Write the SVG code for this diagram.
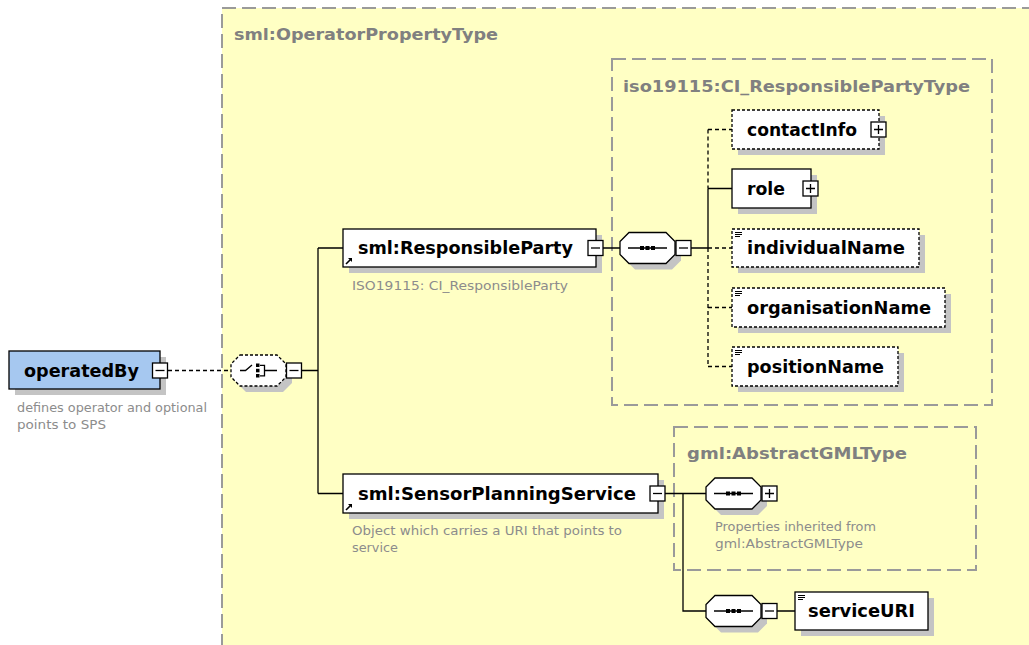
<svg xmlns="http://www.w3.org/2000/svg" xmlns:xlink="http://www.w3.org/1999/xlink" width="1029" height="645" viewBox="0 0 1029 645">
  <style>
    .type{fill:#ffffc4;stroke:#9a9a9a;stroke-width:2;stroke-dasharray:14 6}
    .ttl{font-family:"DejaVu Sans","Liberation Sans",sans-serif;font-weight:bold;font-size:16px;fill:#808080}
    .el{fill:#fff;stroke:#000;stroke-width:1.3}
    .opt{stroke-dasharray:3 2}
    .sh{fill:#c4c4c4}
    .lbl{font-family:"DejaVu Sans","Liberation Sans",sans-serif;font-weight:bold;font-size:18px;fill:#000}
    .doc{font-family:"DejaVu Sans","Liberation Sans",sans-serif;font-size:12px;fill:#8c8c8c}
    .ln{stroke:#000;stroke-width:1.3;fill:none}
    .dl{stroke-dasharray:4 3}
    .cmp{fill:#fff;stroke:#000;stroke-width:1.3}
  </style>
  <defs>
    <path id="oct" d="M9,0H46L55,9V22L46,31H9L0,22V9Z"/>
    <g id="minus">
      <rect width="15" height="15" fill="#fff" stroke="#000" stroke-width="1.3"/>
      <path d="M3,7.5H12" stroke="#000" stroke-width="1.3"/>
    </g>
    <g id="plus">
      <rect width="15" height="15" fill="#fff" stroke="#000" stroke-width="1.3"/>
      <path d="M3,7.5H12M7.5,3V12" stroke="#000" stroke-width="1.3"/>
    </g>
    <g id="seq">
      <path d="M8,15.5H47" stroke="#000" stroke-width="1.3"/>
      <rect x="20" y="13.5" width="4" height="4" fill="#000"/>
      <rect x="25.5" y="13.5" width="4" height="4" fill="#000"/>
      <rect x="31" y="13.5" width="4" height="4" fill="#000"/>
    </g>
    <!-- simple-content marker: three short lines -->
    <g id="txt" fill="#000">
      <rect x="0" y="0" width="7" height="1"/>
      <rect x="0" y="2" width="7" height="1"/>
      <rect x="0" y="4" width="5" height="1"/>
    </g>
    <g id="ref">
      <path d="M1,7L6,2" stroke="#000" stroke-width="1.6"/>
      <path d="M3,1H7V5Z" fill="#000"/>
    </g>
  </defs>

  <!-- complex type frames -->
  <g id="type-operator">
    <rect class="type" x="222" y="8" width="830" height="660"/>
    <text class="ttl" x="234" y="40" textLength="264" lengthAdjust="spacingAndGlyphs">sml:OperatorPropertyType</text>
  </g>
  <g id="type-ci">
    <rect class="type" x="612" y="59" width="380" height="346"/>
    <text class="ttl" x="623" y="92" textLength="347" lengthAdjust="spacingAndGlyphs">iso19115:CI_ResponsiblePartyType</text>
  </g>
  <g id="type-gml">
    <rect class="type" x="674" y="427" width="302" height="143"/>
    <text class="ttl" x="687" y="459" textLength="220" lengthAdjust="spacingAndGlyphs">gml:AbstractGMLType</text>
  </g>

  <!-- connectors -->
  <g id="connectors">
    <path class="ln dl" d="M168,370.5H231"/>
    <path class="ln" d="M301.5,370.5H318M318,248V493.5M318,248H343M318,493.5H343"/>
    <path class="ln" d="M603,248H620M691,248H708M708,188.5V248M708,188.5H732"/>
    <path class="ln dl" d="M708,129.5V188.5M708,129.5H732M708,248V366.5M708,248H732M708,307.5H732M708,366.5H732"/>
    <path class="ln" d="M665,493.5H706M683,493.5V611H706M777,611H795"/>
  </g>

  <!-- operatedBy -->
  <g id="operatedBy">
    <rect class="sh" x="15" y="357" width="151" height="38"/>
    <rect x="9" y="351" width="151" height="38" fill="#a6c8f0" stroke="#000" stroke-width="1.3"/>
    <text class="lbl" x="24" y="377" textLength="115" lengthAdjust="spacingAndGlyphs">operatedBy</text>
    <use xlink:href="#minus" x="152.5" y="363"/>
    <text class="doc" x="17" y="412" textLength="190" lengthAdjust="spacingAndGlyphs">defines operator and optional</text>
    <text class="doc" x="17" y="429" textLength="89" lengthAdjust="spacingAndGlyphs">points to SPS</text>
  </g>

  <!-- choice compositor -->
  <g id="choice">
    <use xlink:href="#oct" x="237" y="361" class="sh"/>
    <use xlink:href="#oct" x="231" y="355" class="cmp opt"/>
    <path d="M240,370.5H245.5L252,365" stroke="#000" stroke-width="1.3" fill="none"/>
    <rect x="256" y="363.5" width="3.5" height="3.5" fill="#000"/>
    <rect x="256" y="368.8" width="3.5" height="3.5" fill="#000"/>
    <rect x="256" y="374" width="3.5" height="3.5" fill="#000"/>
    <path d="M260,365.3H264.5V375.8H260M264.5,370.5H277" stroke="#000" stroke-width="1.3" fill="none"/>
    <use xlink:href="#minus" x="286.5" y="363"/>
  </g>

  <!-- sml:ResponsibleParty -->
  <g id="responsibleParty">
    <rect class="sh" x="349" y="235" width="253" height="38"/>
    <rect class="el" x="343" y="229" width="253" height="38"/>
    <text class="lbl" x="358" y="254" textLength="215" lengthAdjust="spacingAndGlyphs">sml:ResponsibleParty</text>
    <use xlink:href="#ref" x="345" y="257"/>
    <use xlink:href="#minus" x="588" y="240.5"/>
    <text class="doc" x="352" y="290" textLength="216" lengthAdjust="spacingAndGlyphs">ISO19115: CI_ResponsibleParty</text>
  </g>

  <!-- sequence of CI_ResponsiblePartyType -->
  <g id="seq-ci">
    <use xlink:href="#oct" x="626" y="238.5" class="sh"/>
    <use xlink:href="#oct" x="620" y="232.5" class="cmp"/>
    <use xlink:href="#seq" x="620" y="232.5"/>
    <use xlink:href="#minus" x="676" y="240.5"/>
  </g>

  <g id="contactInfo">
    <rect class="sh" x="738" y="116" width="147" height="39"/>
    <rect class="el opt" x="732" y="110" width="147" height="39"/>
    <text class="lbl" x="747" y="136" textLength="110" lengthAdjust="spacingAndGlyphs">contactInfo</text>
    <use xlink:href="#plus" x="871" y="122"/>
  </g>
  <g id="role">
    <rect class="sh" x="738" y="175" width="79" height="39"/>
    <rect class="el" x="732" y="169" width="79" height="39"/>
    <text class="lbl" x="747" y="195" textLength="38" lengthAdjust="spacingAndGlyphs">role</text>
    <use xlink:href="#plus" x="803" y="181"/>
  </g>
  <g id="individualName">
    <rect class="sh" x="738" y="235" width="187" height="38"/>
    <rect class="el opt" x="732" y="229" width="187" height="38"/>
    <use xlink:href="#txt" x="735" y="232"/>
    <text class="lbl" x="747" y="254" textLength="158" lengthAdjust="spacingAndGlyphs">individualName</text>
  </g>
  <g id="organisationName">
    <rect class="sh" x="738" y="294" width="213" height="39"/>
    <rect class="el opt" x="732" y="288" width="213" height="39"/>
    <use xlink:href="#txt" x="735" y="291"/>
    <text class="lbl" x="747" y="314" textLength="184" lengthAdjust="spacingAndGlyphs">organisationName</text>
  </g>
  <g id="positionName">
    <rect class="sh" x="738" y="353" width="166" height="39"/>
    <rect class="el opt" x="732" y="347" width="166" height="39"/>
    <use xlink:href="#txt" x="735" y="350"/>
    <text class="lbl" x="747" y="373" textLength="137" lengthAdjust="spacingAndGlyphs">positionName</text>
  </g>

  <!-- sml:SensorPlanningService -->
  <g id="sensorPlanningService">
    <rect class="sh" x="349" y="480" width="315" height="39"/>
    <rect class="el" x="343" y="474" width="315" height="39"/>
    <text class="lbl" x="358" y="500" textLength="278" lengthAdjust="spacingAndGlyphs">sml:SensorPlanningService</text>
    <use xlink:href="#ref" x="345" y="503"/>
    <use xlink:href="#minus" x="650" y="486"/>
    <text class="doc" x="352" y="535" textLength="270" lengthAdjust="spacingAndGlyphs">Object which carries a URI that points to</text>
    <text class="doc" x="352" y="552" textLength="46" lengthAdjust="spacingAndGlyphs">service</text>
  </g>

  <!-- inherited gml sequence -->
  <g id="seq-gml">
    <use xlink:href="#oct" x="712" y="484" class="sh"/>
    <use xlink:href="#oct" x="706" y="478" class="cmp"/>
    <use xlink:href="#seq" x="706" y="478"/>
    <use xlink:href="#plus" x="762" y="486"/>
    <text class="doc" x="715" y="531" textLength="161" lengthAdjust="spacingAndGlyphs">Properties inherited from</text>
    <text class="doc" x="715" y="548" textLength="148" lengthAdjust="spacingAndGlyphs">gml:AbstractGMLType</text>
  </g>

  <!-- serviceURI sequence -->
  <g id="seq-service">
    <use xlink:href="#oct" x="712" y="601.5" class="sh"/>
    <use xlink:href="#oct" x="706" y="595.5" class="cmp"/>
    <use xlink:href="#seq" x="706" y="595.5"/>
    <use xlink:href="#minus" x="762" y="603.5"/>
  </g>
  <g id="serviceURI">
    <rect class="sh" x="801" y="598" width="133" height="38"/>
    <rect class="el" x="795" y="592" width="133" height="38"/>
    <use xlink:href="#txt" x="798" y="595"/>
    <text class="lbl" x="808" y="617" textLength="107" lengthAdjust="spacingAndGlyphs">serviceURI</text>
  </g>
</svg>
